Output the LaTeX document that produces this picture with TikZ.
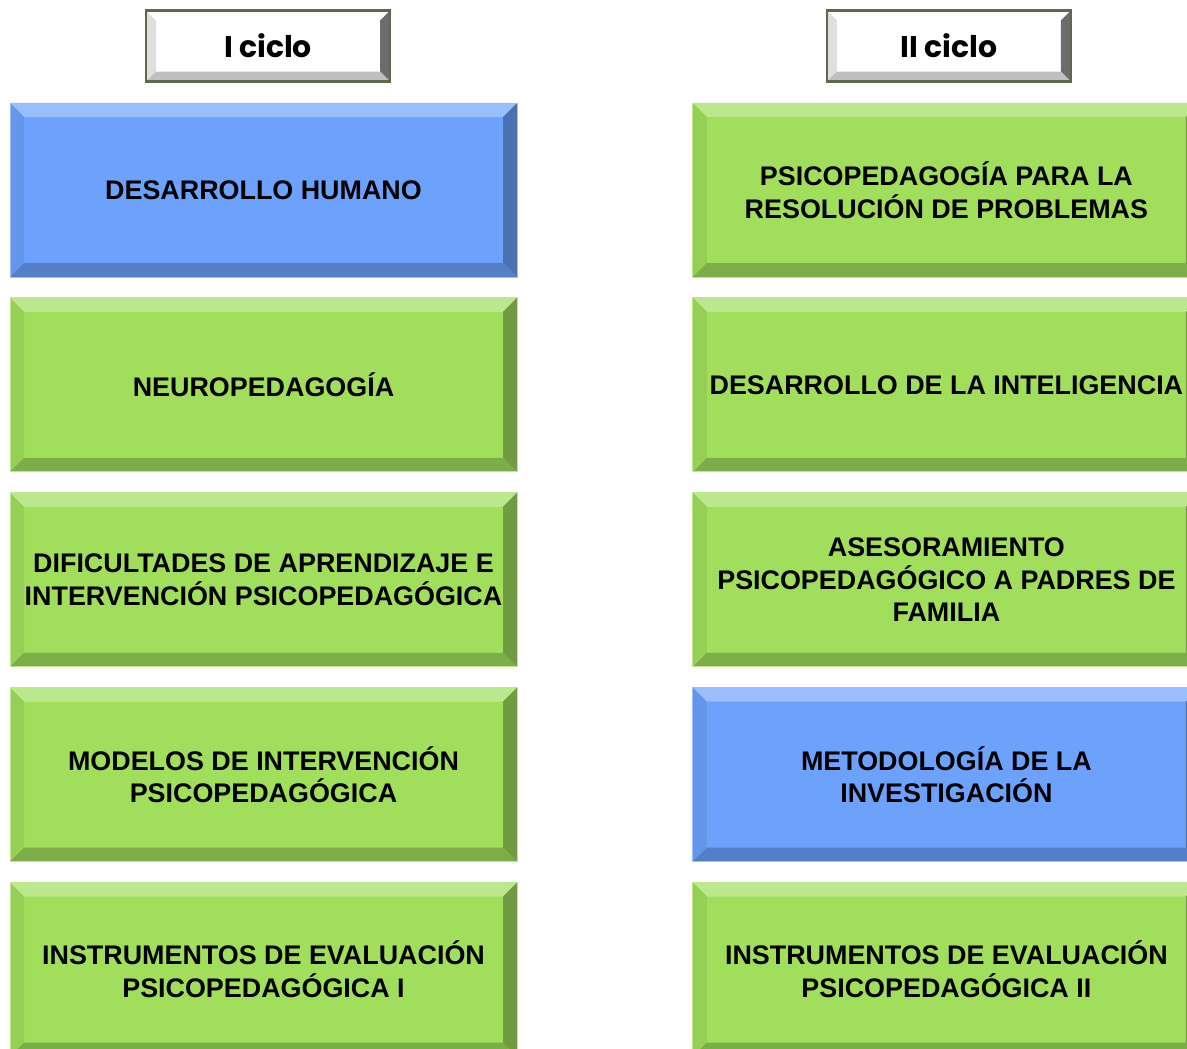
\documentclass[tikz,border=0pt]{standalone}
\usepackage{fontspec}
\setmainfont{Liberation Sans}
\newfontfamily\headfont{Poppins}
\usepackage{tikz}
\usetikzlibrary{positioning}
\definecolor{azul}{RGB}{108,162,252}
\definecolor{verde}{RGB}{160,222,92}
\definecolor{borde}{RGB}{92,106,76}

\begin{document}
\begin{tikzpicture}[node distance={4mm},
	bevel/.style = {path picture={
		\fill[#1!70!white] (path picture bounding box.north west) -- (path picture bounding box.north east) -- ([shift={(-0.28,-0.28)}]path picture bounding box.north east) -- ([shift={(0.28,-0.28)}]path picture bounding box.north west) -- cycle;
		\fill[#1!93!black] (path picture bounding box.north west) -- ([shift={(0.28,-0.28)}]path picture bounding box.north west) -- ([shift={(0.28,0.28)}]path picture bounding box.south west) -- (path picture bounding box.south west) -- cycle;
		\fill[#1!70!black] (path picture bounding box.north east) -- ([shift={(-0.28,-0.28)}]path picture bounding box.north east) -- ([shift={(-0.28,0.28)}]path picture bounding box.south east) -- (path picture bounding box.south east) -- cycle;
		\fill[#1!78!black] (path picture bounding box.south west) -- ([shift={(0.28,0.28)}]path picture bounding box.south west) -- ([shift={(-0.28,0.28)}]path picture bounding box.south east) -- (path picture bounding box.south east) -- cycle;
	}},
	main/.style = {rectangle, fill=#1, bevel=#1, draw=#1!70!white, line width=0.5pt, minimum width=10.14cm, minimum height=3.48cm, align=center, inner sep=2pt, font=\bfseries\fontsize{15.3}{18.6}\selectfont},
	head/.style = {rectangle, fill=white, draw=borde, line width=1.2pt, minimum width=4.88cm, minimum height=1.42cm, font=\headfont\bfseries\fontsize{17}{20}\selectfont,
		path picture={
		\fill[gray!25] (path picture bounding box.north west) -- ([shift={(0.2,-0.2)}]path picture bounding box.north west) -- ([shift={(0.2,0.2)}]path picture bounding box.south west) -- (path picture bounding box.south west) -- cycle;
		\fill[gray!85!black] (path picture bounding box.north east) -- ([shift={(-0.2,-0.2)}]path picture bounding box.north east) -- ([shift={(-0.2,0.2)}]path picture bounding box.south east) -- (path picture bounding box.south east) -- cycle;
		\fill[gray!50] (path picture bounding box.south west) -- ([shift={(0.2,0.2)}]path picture bounding box.south west) -- ([shift={(-0.2,0.2)}]path picture bounding box.south east) -- (path picture bounding box.south east) -- cycle;
	}}]
	\useasboundingbox (0,0) rectangle (23.74,-20.96);
	% I ciclo
	\node[main=azul] (1) at (5.27,-3.80) {DESARROLLO HUMANO};
	\node[main=verde] (2) [below=of 1] {NEUROPEDAGOGÍA};
	\node[main=verde] (3) [below=of 2] {DIFICULTADES DE APRENDIZAJE E\\INTERVENCIÓN PSICOPEDAGÓGICA};
	\node[main=verde] (4) [below=of 3] {MODELOS DE INTERVENCIÓN\\PSICOPEDAGÓGICA};
	\node[main=verde] (5) [below=of 4] {INSTRUMENTOS DE EVALUACIÓN\\PSICOPEDAGÓGICA I};
	% II ciclo
	\node[main=verde] (6) [right=3.5cm of 1] {PSICOPEDAGOGÍA PARA LA\\RESOLUCIÓN DE PROBLEMAS};
	\node[main=verde] (7) [below=of 6] {DESARROLLO DE LA INTELIGENCIA};
	\node[main=verde] (8) [below=of 7] {ASESORAMIENTO\\PSICOPEDAGÓGICO A PADRES DE\\FAMILIA};
	\node[main=azul] (9) [below=of 8] {METODOLOGÍA DE LA\\INVESTIGACIÓN};
	\node[main=verde] (10) [below=of 9] {INSTRUMENTOS DE EVALUACIÓN\\PSICOPEDAGÓGICA II};
	% titulos
	\node[head] (h1) [above=of 1, xshift=0.09cm] {I ciclo};
	\node[head] (h2) [above=of 6, xshift=0.05cm] {II ciclo};
\end{tikzpicture}
\end{document}
